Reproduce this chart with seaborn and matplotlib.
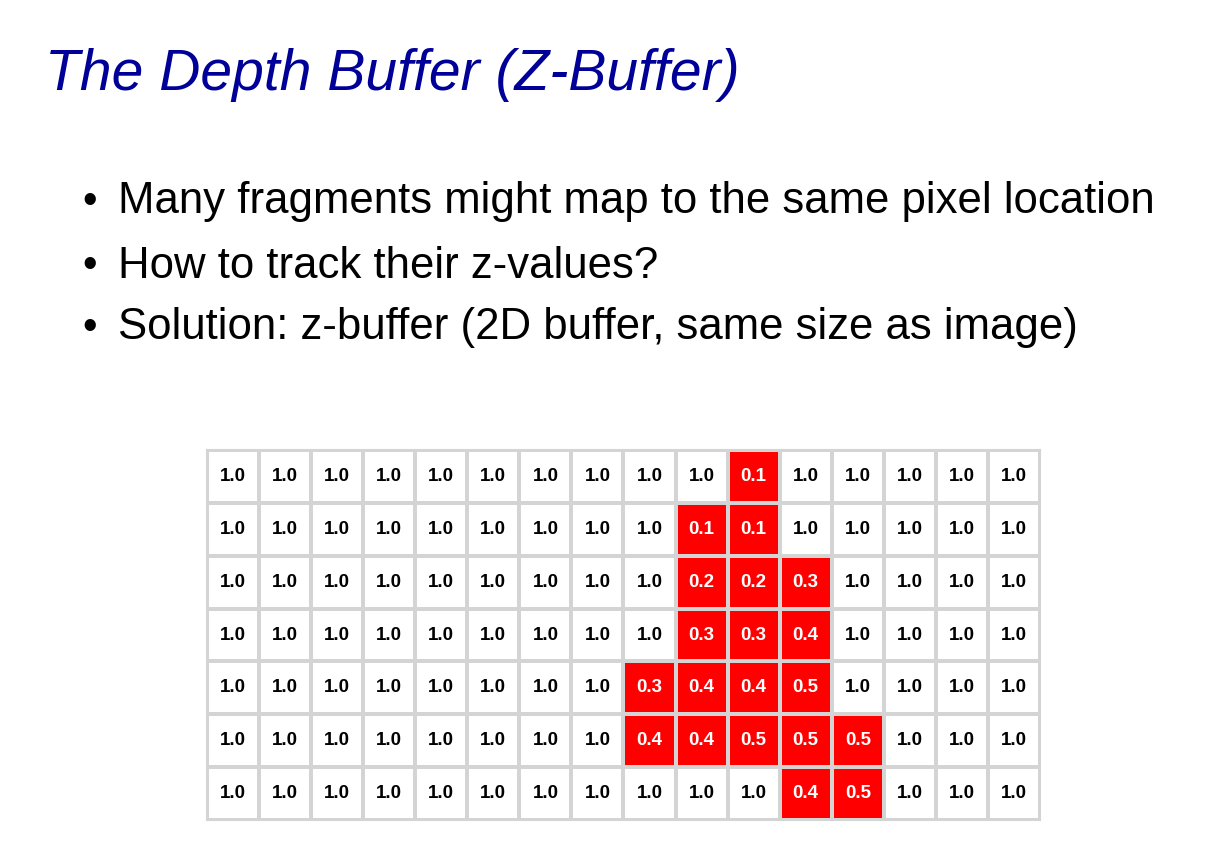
import matplotlib
matplotlib.use("Agg")
import matplotlib.pyplot as plt
from matplotlib.colors import ListedColormap
import numpy as np
import seaborn as sns

# z-buffer contents, 7 rows x 16 columns
row0 = [1.0] * 10 + [0.1] + [1.0] * 5
row1 = [1.0] * 9 + [0.1, 0.1] + [1.0] * 5
row2 = [1.0] * 9 + [0.2, 0.2, 0.3] + [1.0] * 4
row3 = [1.0] * 9 + [0.3, 0.3, 0.4] + [1.0] * 4
row4 = [1.0] * 8 + [0.3, 0.4, 0.4, 0.5] + [1.0] * 4
row5 = [1.0] * 8 + [0.4, 0.4, 0.5, 0.5, 0.5] + [1.0] * 3
row6 = [1.0] * 11 + [0.4, 0.5] + [1.0] * 3
zbuf = np.array([row0, row1, row2, row3, row4, row5, row6])

title = "The Depth Buffer (Z-Buffer)"
bullets = [
    "Many fragments might map to the same pixel location",
    "How to track their z-values?",
    "Solution: z-buffer (2D buffer, same size as image)",
]

plt.rcParams["font.family"] = ["Liberation Sans", "DejaVu Sans"]
fig = plt.figure(figsize=(12.09, 8.46), dpi=100)
fig.patch.set_facecolor("white")

fig.text(45 / 1209, 1 - 75 / 846, title, fontsize=41, style="italic",
         color="#000099", va="center", ha="left")
for txt, y in zip(bullets, [202, 266, 328]):
    fig.text(82 / 1209, 1 - y / 846, "\u2022", fontsize=30, va="center", ha="left")
    fig.text(118 / 1209, 1 - y / 846, txt, fontsize=31.5, va="center", ha="left")

ax = fig.add_axes([207 / 1209, 26 / 846, 833 / 1209, 370 / 846])
covered = (zbuf < 1.0).astype(float)
sns.heatmap(covered, annot=zbuf, fmt=".1f", cmap=ListedColormap(["white", "#ff0000"]),
            vmin=0, vmax=1, cbar=False, linewidths=1.5, linecolor="#d4d4d4",
            annot_kws={"fontsize": 13.5, "fontweight": "bold"}, ax=ax)
for t, v in zip(ax.texts, zbuf.flatten()):
    t.set_color("white" if v < 1.0 else "black")
ax.set_xticks([])
ax.set_yticks([])
for s in ax.spines.values():
    s.set_visible(True)
    s.set_color("#d4d4d4")
    s.set_linewidth(1.5)

fig.savefig("out.png", dpi=100)
